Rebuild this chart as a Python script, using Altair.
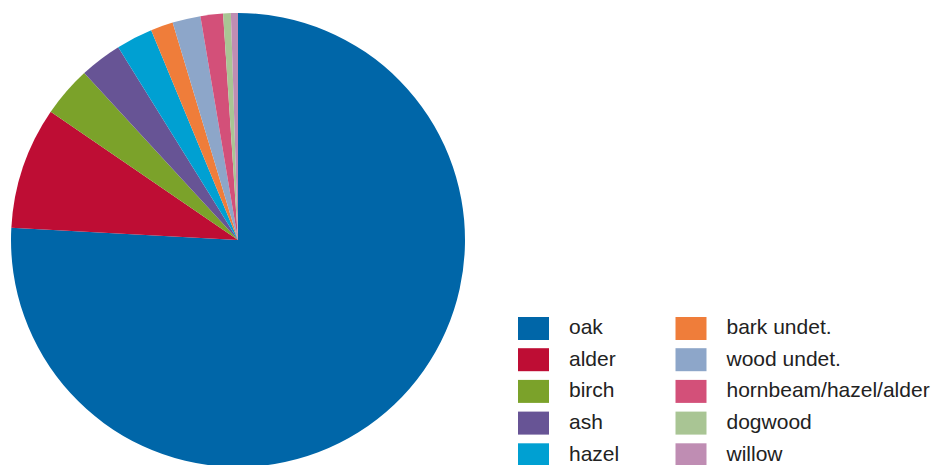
import altair as alt
import pandas as pd

species = ["oak", "alder", "birch", "ash", "hazel", "bark undet.", "wood undet.",
           "hornbeam/hazel/alder", "dogwood", "willow"]
shares = [75.9, 8.7, 3.6, 3.0, 2.6, 1.6, 2.0, 1.6, 0.55, 0.5]
colors = ["#0066A8", "#BE0D34", "#7BA22A", "#675495", "#00A0D2", "#EF7D3A",
          "#8DA6C9", "#D35079", "#A9C594", "#BF8DB3"]

df = pd.DataFrame({"species": species, "share": shares, "rank": list(range(len(species)))})

rect_path = "M-1,-0.742L1,-0.742L1,0.742L-1,0.742Z"

chart = alt.Chart(df).mark_arc(radius=227, stroke=None).encode(
    theta=alt.Theta("share:Q", stack=True),
    order=alt.Order("rank:Q"),
    x=alt.value(238),
    y=alt.value(240),
    color=alt.Color(
        "species:N",
        scale=alt.Scale(domain=species, range=colors),
        legend=alt.Legend(
            title=None,
            orient="none",
            legendX=518,
            legendY=312.5,
            columns=2,
            columnPadding=55.5,
            rowPadding=3.7,
            symbolType=rect_path,
            symbolSize=961,
            symbolStrokeWidth=0,
            symbolOpacity=1,
            labelFont="Liberation Sans",
            labelFontSize=21,
            labelColor="#222222",
            labelOffset=20,
            labelLimit=400,
            padding=0,
        ),
    ),
).properties(
    width=943,
    height=465,
    padding=0,
    autosize=alt.AutoSizeParams(type="none"),
).configure_view(stroke=None)

chart.save("out.html", embed_options={"renderer": "svg", "actions": False})
